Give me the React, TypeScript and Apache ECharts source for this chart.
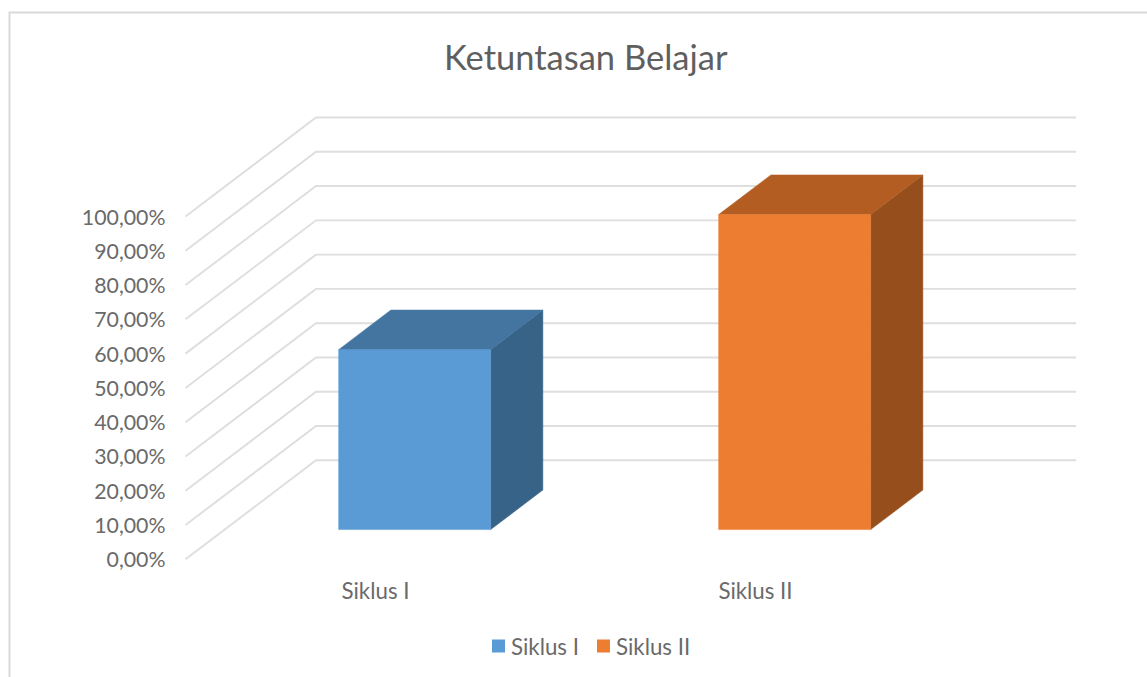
import React, { useEffect, useRef } from "react";
import * as echarts from "echarts";

const titleText = "Ketuntasan Belajar";
const categories = ["Siklus I", "Siklus II"];
const seriesNames = ["Siklus I", "Siklus II"];
const siklusIValues = [52.5];
const siklusIIValues = [91.9];
const yTicks = [0, 10, 20, 30, 40, 50, 60, 70, 80, 90, 100];

const FONT = "Lato, Carlito, sans-serif";
const TEXT = "#6a6a6a";
const GRID = "#dedede";
const WALL_DX = 130.5;
const WALL_DY = 99;
const BAR_SHARE = 0.4;
const BAR_OFFSET = 0.3;

const makeBar = (front: string, top: string, side: string) => (_p: any, api: any) => {
  const cat = api.value(0);
  const topPt = api.coord([cat, api.value(1)]);
  const basePt = api.coord([cat, 0]);
  const band = api.size([1, 0])[0];
  const w = band * BAR_SHARE;
  const ox = WALL_DX * BAR_OFFSET;
  const oy = WALL_DY * BAR_OFFSET;
  const dx = WALL_DX * BAR_SHARE;
  const dy = WALL_DY * BAR_SHARE;
  const l = topPt[0] - w / 2 + ox;
  const r = l + w;
  const t = topPt[1] - oy;
  const b = basePt[1] - oy;
  const poly = (points: number[][], fill: string) => ({
    type: "polygon",
    shape: { points },
    style: { fill, stroke: fill, lineWidth: 0.5 },
  });
  return {
    type: "group",
    children: [
      poly([[r, t], [r + dx, t - dy], [r + dx, b - dy], [r, b]], side),
      poly([[l, t], [l + dx, t - dy], [r + dx, t - dy], [r, t]], top),
      poly([[l, t], [r, t], [r, b], [l, b]], front),
    ],
  };
};

const renderGridLine = (params: any, api: any) => {
  const y = api.coord([0, api.value(1)])[1];
  const sys = params.coordSys;
  return {
    type: "polyline",
    shape: {
      points: [
        [sys.x, y],
        [sys.x + WALL_DX, y - WALL_DY],
        [sys.x + sys.width + WALL_DX, y - WALL_DY],
      ],
    },
    style: { stroke: GRID, lineWidth: 1.9, fill: "none" },
  };
};

export default function App() {
  const ref = useRef<HTMLDivElement>(null);
  useEffect(() => {
    const chart = echarts.init(ref.current!, undefined, { renderer: "svg" });
    chart.setOption({
      animation: false,
      backgroundColor: "#ffffff",
      textStyle: { fontFamily: FONT },
      title: {
        text: titleText,
        left: 439,
        top: 34,
        textStyle: { fontFamily: FONT, fontSize: 34.5, fontWeight: 400, color: "#5f5f5f" },
      },
      legend: {
        data: seriesNames,
        left: 492,
        top: 635,
        padding: 0,
        icon: "rect",
        itemWidth: 13,
        itemHeight: 13,
        itemGap: 18,
        textStyle: { fontFamily: FONT, fontSize: 22.3, color: TEXT, padding: [0, 0, 0, 1] },
      },
      grid: { left: 185.5, width: 760, top: 216.5, height: 342.8, containLabel: false },
      xAxis: {
        type: "category",
        data: categories,
        axisLine: { show: false },
        axisTick: { show: false },
        axisLabel: { fontFamily: FONT, fontSize: 22.3, color: TEXT, margin: 20 },
      },
      yAxis: {
        type: "value",
        min: 0,
        max: 100,
        interval: 10,
        axisLine: { show: false },
        axisTick: { show: false },
        splitLine: { show: false },
        axisLabel: {
          fontFamily: FONT,
          fontSize: 21.3,
          color: TEXT,
          margin: 20,
          formatter: (v: number) => v.toFixed(2).replace(".", ",") + "%",
        },
      },
      graphic: [
        {
          type: "polyline",
          silent: true,
          shape: { points: [[9.5, 677], [9.5, 12.5], [1147, 12.5]] },
          style: { stroke: "#d9d9d9", lineWidth: 2, fill: "none" },
        },
      ],
      series: [
        {
          type: "custom",
          name: "gridlines",
          z: 1,
          silent: true,
          renderItem: renderGridLine,
          encode: { x: 0, y: 1 },
          data: yTicks.map((t) => [0, t]),
        },
        {
          type: "custom",
          name: seriesNames[0],
          z: 2,
          renderItem: makeBar("#5B9BD5", "#4475A1", "#376389"),
          itemStyle: { color: "#5B9BD5" },
          encode: { x: 0, y: 1 },
          data: siklusIValues.map((v) => [0, v]),
        },
        {
          type: "custom",
          name: seriesNames[1],
          z: 2,
          renderItem: makeBar("#ED7D31", "#B35D22", "#964F1C"),
          itemStyle: { color: "#ED7D31" },
          encode: { x: 0, y: 1 },
          data: siklusIIValues.map((v) => [1, v]),
        },
      ],
    });
    return () => chart.dispose();
  }, []);
  return (
    <div
      ref={ref}
      style={{ position: "fixed", left: 0, top: 0, width: 1147, height: 677 }}
    />
  );
}
